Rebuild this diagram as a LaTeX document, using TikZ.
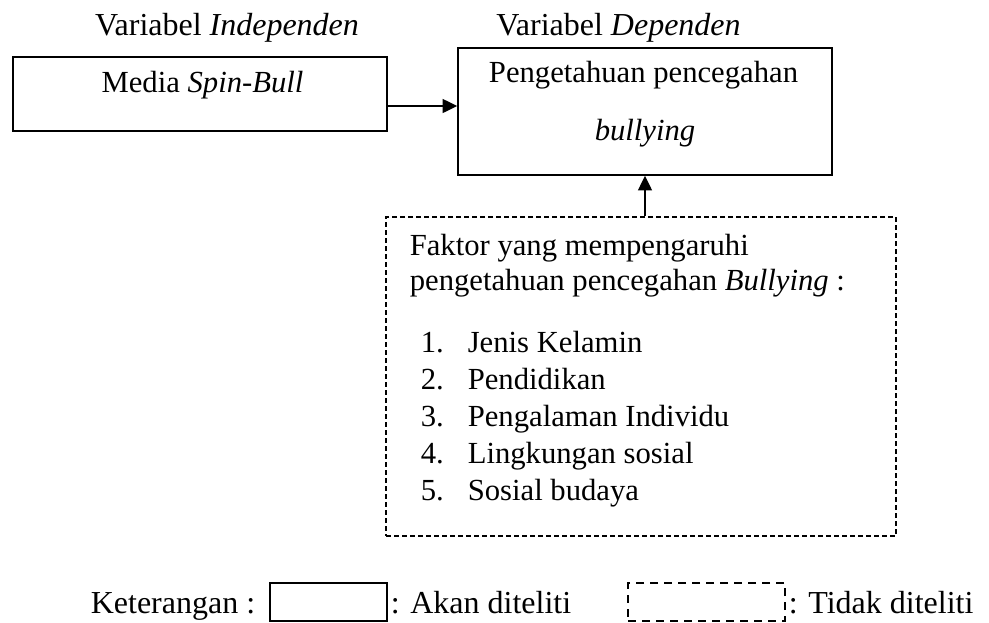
\documentclass[tikz,border=0pt]{standalone}
\usepackage{fontspec}
\setmainfont{Liberation Serif}
\usetikzlibrary{arrows.meta,positioning}

\begin{document}
\begin{tikzpicture}[x=0.75pt,y=-0.75pt,line width=1.2pt,inner sep=0pt,
	font=\fontsize{23}{28}\selectfont,
	solidbox/.style={draw,minimum width=280.5pt},
	dashbox/.style={draw,dash pattern=on 3.75pt off 2.25pt},
	legdash/.style={draw,dash pattern=on 6pt off 4.5pt},
	arr/.style={-{Triangle[length=11pt,width=10.5pt]}}]
	\useasboundingbox (0,0) rectangle (989,622);

	%boxes
	\node[solidbox,minimum height=55.5pt] (media) at (200,94) {}; %independent box
	\node[solidbox,minimum height=95.25pt] (dep) at (645,111.5) {}; %dependent box
	\node[dashbox,minimum width=382.5pt,minimum height=239.25pt] (faktor) at (641,376.5) {}; %factors box

	%headings
	\node[anchor=base,font=\fontsize{24}{28}\selectfont] (indhead) at (227,35) {Variabel \textit{Independen}};
	\node[anchor=base,font=\fontsize{24}{28}\selectfont] (dephead) at (618.5,35) {Variabel \textit{Dependen}};

	%box texts
	\node[anchor=base] (mediatxt) at (202.5,92) {Media \textit{Spin-Bull}};
	\node[anchor=base] (deptxt1) at (643.5,82) {Pengetahuan pencegahan};
	\node[anchor=base] (deptxt2) at (645,140) {\textit{bullying}};

	\node[anchor=base west] (fak1) at (409,255) {Faktor yang mempengaruhi};
	\node[anchor=base west] (fak2) at (409,290) {pengetahuan pencegahan \textit{Bullying} :};
	\foreach \n/\txt [count=\i] in {352/Jenis Kelamin,389/Pendidikan,426/Pengalaman Individu,463/Lingkungan sosial,500/Sosial budaya}{
		\node[anchor=base west] (num\i) at (420,\n) {\i.};
		\node[anchor=base west] (item\i) at (467,\n) {\txt};
	}

	%arrows
	\draw[arr] ([yshift=-9pt]media.east) -- ([yshift=-9pt]media.east -| dep.west); %media -> knowledge
	\draw[arr] (dep.south |- faktor.north) -- (dep.south); %factors -> knowledge

	%legend
	\node[anchor=base west,font=\fontsize{24}{28}\selectfont] (ket) at (90,613) {Keterangan :};
	\node[draw,minimum width=87.75pt,minimum height=28.5pt] (legsolid) at (328.5,602) {};
	\node[anchor=base west,font=\fontsize{24}{28}\selectfont] (akan) at (390,613) {: Akan diteliti};
	\node[legdash,minimum width=117.75pt,minimum height=28.5pt] (legdashed) at (706.5,602) {};
	\node[anchor=base west,font=\fontsize{24}{28}\selectfont] (tidak) at (788,613) {: Tidak diteliti};
\end{tikzpicture}
\end{document}
